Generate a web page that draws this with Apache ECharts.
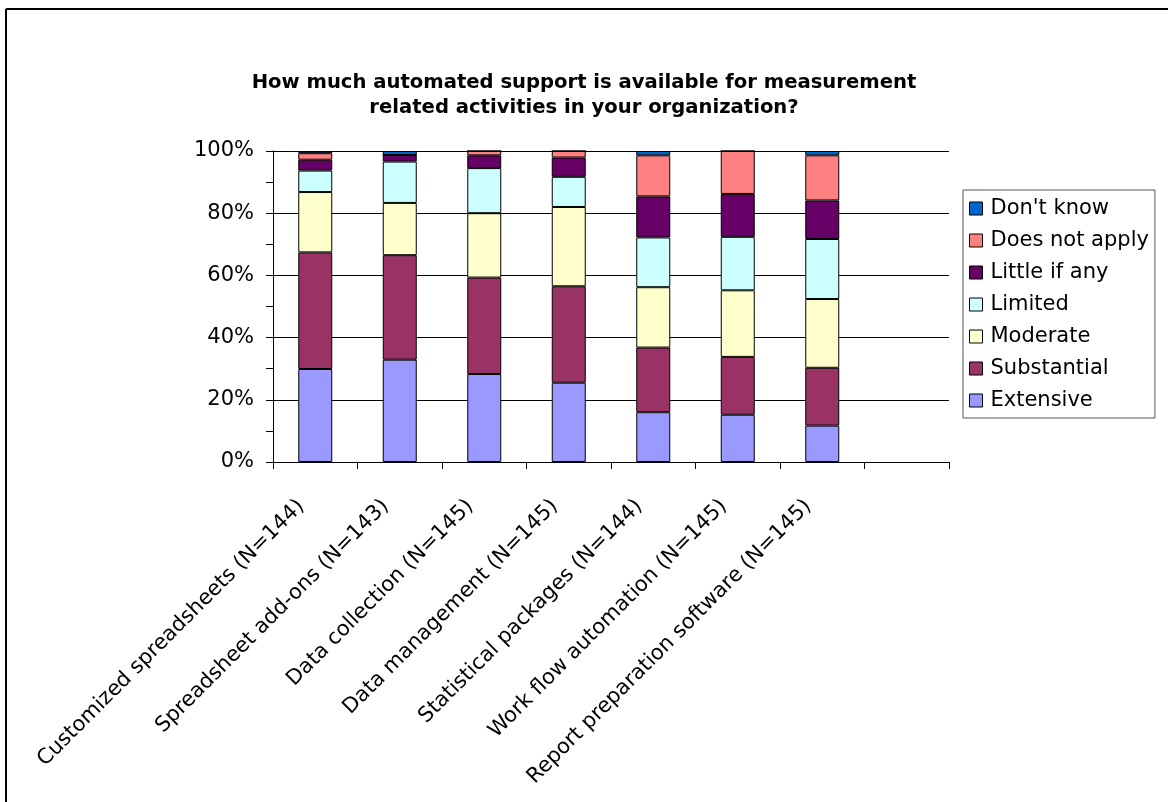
<!DOCTYPE html>
<html>
<head>
<meta charset="utf-8">
<title>Automated support for measurement activities</title>
<script src="https://cdn.jsdelivr.net/npm/echarts@6/dist/echarts.min.js"></script>
<style>
  html, body { margin: 0; padding: 0; background: #fff; }
  #chart { width: 1168px; height: 802px; }
</style>
</head>
<body>
<div id="chart"></div>
<script>
// Categories (last slot intentionally empty)
const categories = [
  'Customized spreadsheets (N=144)',
  'Spreadsheet add-ons (N=143)',
  'Data collection (N=145)',
  'Data management (N=145)',
  'Statistical packages (N=144)',
  'Work flow automation (N=145)',
  'Report preparation software (N=145)',
  ''
];

// Percent of respondents per answer, one value per category
const extensive    = [29.9, 32.9, 28.3, 25.5, 16.0, 15.2, 11.7];
const substantial  = [37.5, 33.6, 31.0, 31.0, 20.8, 18.6, 18.6];
const moderate     = [19.4, 16.8, 20.7, 25.5, 19.4, 21.4, 22.1];
const limited      = [6.9, 13.3, 14.5, 9.7, 16.0, 17.2, 19.3];
const littleIfAny  = [3.5, 2.1, 4.1, 6.2, 13.2, 13.8, 12.4];
const doesNotApply = [2.1, 0, 1.4, 2.1, 13.2, 13.8, 14.5];
const dontKnow     = [0.7, 1.3, 0, 0, 1.4, 0, 1.4];

const yTicks = [0, 20, 40, 60, 80, 100];

const seriesDefs = [
  { name: 'Extensive',      data: extensive,    color: '#9999FF' },
  { name: 'Substantial',    data: substantial,  color: '#993366' },
  { name: 'Moderate',       data: moderate,     color: '#FFFFCC' },
  { name: 'Limited',        data: limited,      color: '#CCFFFF' },
  { name: 'Little if any',  data: littleIfAny,  color: '#660066' },
  { name: 'Does not apply', data: doesNotApply, color: '#FF8080' },
  { name: "Don't know",     data: dontKnow,     color: '#0066CC' }
];

const FONT = '"DejaVu Sans", "Liberation Sans", Arial, sans-serif';

const chart = echarts.init(document.getElementById('chart'), null, { renderer: 'canvas' });

chart.setOption({
  backgroundColor: '#ffffff',
  animation: false,
  textStyle: { fontFamily: FONT },
  title: {
    text: 'How much automated support is available for measurement\nrelated activities in your organization?',
    left: 'center',
    top: 70,
    padding: 0,
    textStyle: {
      fontFamily: FONT,
      fontSize: 19.6,
      fontWeight: 'bold',
      color: '#000',
      lineHeight: 25
    }
  },
  legend: {
    orient: 'vertical',
    left: 963,
    top: 190,
    data: seriesDefs.map(s => s.name).reverse(),
    itemWidth: 13,
    itemHeight: 13,
    itemGap: 11,
    padding: [8, 6, 7, 6],
    borderColor: '#555',
    borderWidth: 1,
    icon: 'rect',
    selectedMode: false,
    textStyle: { fontFamily: FONT, fontSize: 21, color: '#000', padding: [0, 0, 0, 3], lineHeight: 21 },
    itemStyle: { borderColor: '#000', borderWidth: 1 }
  },
  grid: {
    left: 273,
    right: 219,
    top: 151,
    bottom: 340,
    containLabel: false
  },
  xAxis: {
    type: 'category',
    data: categories,
    axisLine: { show: true, lineStyle: { color: '#000', width: 1 } },
    axisTick: { show: true, length: 7, lineStyle: { color: '#000' } },
    axisLabel: {
      rotate: 45,
      interval: 0,
      margin: 27,
      padding: [0, 20, 0, 0],
      fontFamily: FONT,
      fontSize: 21,
      color: '#000'
    },
    splitLine: { show: false }
  },
  yAxis: {
    type: 'value',
    min: yTicks[0],
    max: yTicks[yTicks.length - 1],
    interval: 20,
    axisLine: { show: true, lineStyle: { color: '#000', width: 1 } },
    axisTick: { show: true, length: 7, inside: false, lineStyle: { color: '#000' } },
    minorTick: { show: true, splitNumber: 2, length: 7, lineStyle: { color: '#000' } },
    axisLabel: {
      formatter: '{value}%',
      margin: 19,
      fontFamily: FONT,
      fontSize: 21,
      color: '#000'
    },
    splitLine: { show: true, lineStyle: { color: '#000', width: 1 } }
  },
  series: seriesDefs.map(s => ({
    name: s.name,
    type: 'bar',
    stack: 'total',
    data: s.data,
    barWidth: 34,
    itemStyle: { color: s.color, borderColor: '#000', borderWidth: 1 },
    emphasis: { disabled: true }
  })),
  graphic: [
    // chart frame: top and left edges
    { type: 'line', shape: { x1: 6, y1: 9, x2: 1170, y2: 9 }, style: { stroke: '#000', lineWidth: 2 } },
    { type: 'line', shape: { x1: 6, y1: 9, x2: 6, y2: 805 }, style: { stroke: '#000', lineWidth: 2 } }
  ]
});
</script>
</body>
</html>
